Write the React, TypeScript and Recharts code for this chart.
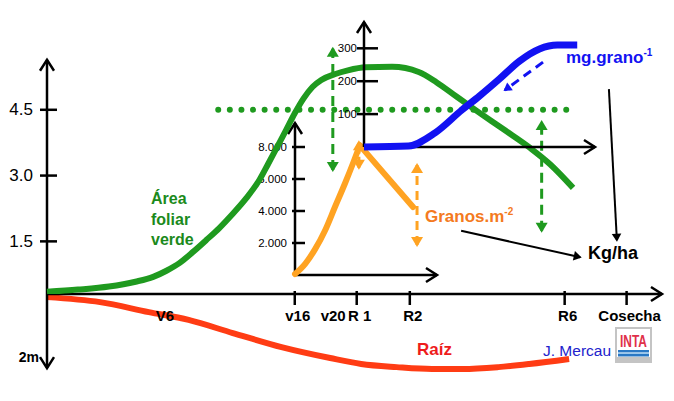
import React from "react";
import { ComposedChart, Line, XAxis, YAxis, ReferenceLine } from "recharts";

const W = 674;
const H = 401;
const FONT = "'Liberation Sans', Arial, Helvetica, sans-serif";

const GREEN = "#1f9a1f";
const GREEN_TEXT = "#1b8a1b";
const ORANGE = "#ffa322";
const ORANGE_TEXT = "#f47a20";
const BLUE = "#1212f2";
const RED = "#ff3c14";

// eje principal: días desde emergencia
const stages = ["V6", "v16", "v20", "R 1", "R2", "R6", "Cosecha"];
const stageDays = [26, 56, 64, 70, 82, 117, 131];
const markedStages = ["v16", "R 1", "R2", "R6", "Cosecha"];

// área foliar verde (IAF)
const laiTicks = [1.5, 3.0, 4.5];
const laiDays = [0, 7, 14, 20, 24, 27, 30, 33, 36, 39, 42, 45, 48, 50, 52, 54, 56, 58, 60, 62, 65, 68, 72, 78, 84, 88, 92.7, 97.2, 103.1, 109.2, 113.7, 118.9];
const laiValues = [0.35, 0.4, 0.47, 0.58, 0.69, 0.83, 1.01, 1.26, 1.53, 1.81, 2.13, 2.48, 2.9, 3.27, 3.65, 4.03, 4.42, 4.76, 5.02, 5.18, 5.31, 5.4, 5.47, 5.48, 5.36, 5.13, 4.79, 4.47, 4.06, 3.63, 3.26, 2.72];
const laiCritical = 4.5;

// profundidad de raíz (m)
const rootTicks = [-2];
const rootDays = [0, 12, 23, 32, 42, 53, 64, 71, 79, 87, 94, 102, 109, 118];
const rootDepth = [-0.1, -0.26, -0.58, -0.83, -1.25, -1.7, -2.05, -2.24, -2.34, -2.4, -2.4, -2.34, -2.24, -2.08];

// granos por m2
const granosTicks = [2000, 4000, 6000, 8000];
const granosDays = [56, 58.3, 60.5, 62.8, 65, 67.3, 69.1, 70.6, 82.6];
const granosValues = [60, 700, 1600, 2800, 4250, 5750, 7000, 8100, 4250];

// peso de grano (mg)
const pesoTicks = [100, 200, 300];
const pesoDays = [72, 82, 88, 94, 98, 102.5, 107, 111.5, 115.5, 120];
const pesoValues = [0, 3, 43, 112, 155, 207, 261, 298, 310, 310];

const laiData = laiDays.map((day, i) => ({ day, lai: laiValues[i] }));
const rootData = rootDays.map((day, i) => ({ day, depth: rootDepth[i] }));
const peakIdx = granosValues.indexOf(Math.max(...granosValues));
const granosData = granosDays.map((day, i) => ({
  day,
  sube: i <= peakIdx ? granosValues[i] : null,
  baja: i >= peakIdx ? granosValues[i] : null,
}));
const pesoData = pesoDays.map((day, i) => ({ day, peso: pesoValues[i] }));

const dotsFrom = 38.7;
const dotsTo = 117.6;

const layer: React.CSSProperties = { position: "absolute", left: 0, top: 0 };

const arrow =
  (color: string, width: number, head: string, dash?: string, both = false) =>
  (p: any) =>
    (
      <line
        x1={p.x1}
        y1={p.y1}
        x2={p.x2}
        y2={p.y2}
        stroke={color}
        strokeWidth={width}
        strokeDasharray={dash}
        markerEnd={`url(#${head})`}
        markerStart={both ? `url(#${head})` : undefined}
      />
    );

const valueTick =
  (fmt: (v: number) => string, size: number, left: number, right: number, gap: number, bold = false) =>
  (p: any) =>
    (
      <g>
        {right > 0 && <line x1={p.x - left} x2={p.x + right} y1={p.y} y2={p.y} stroke="#000" strokeWidth={2.5} />}
        <text
          x={p.x - gap}
          y={p.y}
          textAnchor="end"
          dominantBaseline="central"
          fontSize={size}
          fontFamily={FONT}
          fontWeight={bold ? 700 : 400}
          fill="#000"
        >
          {fmt(p.payload.value)}
        </text>
      </g>
    );

const stageTick = (p: any) => {
  const name = stages[stageDays.indexOf(p.payload.value)];
  return (
    <g>
      {markedStages.includes(name) && (
        <line x1={p.x} x2={p.x} y1={p.y - 3} y2={p.y + 11} stroke="#000" strokeWidth={2.5} />
      )}
      <text x={p.x + 3} y={p.y + 27} textAnchor="middle" fontSize={15} fontWeight={700} fontFamily={FONT} fill="#000">
        {name}
      </text>
    </g>
  );
};

const thousands = (v: number) => String(v).replace(/\B(?=(\d{3})+(?!\d))/g, ".");

function Markers() {
  const tri = (id: string, color: string, s = 1) => (
    <marker
      id={id}
      markerUnits="userSpaceOnUse"
      viewBox="-12 -8 16 16"
      refX={0}
      refY={0}
      markerWidth={16}
      markerHeight={16}
      orient="auto-start-reverse"
      style={{ overflow: "visible" }}
    >
      <path d={`M${-8 * s},${-6 * s} L${2 * s},0 L${-8 * s},${6 * s} Z`} fill={color} />
    </marker>
  );
  return (
    <svg width={0} height={0} style={{ position: "absolute" }}>
      <defs>
        <marker
          id="chev"
          markerUnits="userSpaceOnUse"
          viewBox="-12 -8 16 16"
          refX={0}
          refY={0}
          markerWidth={16}
          markerHeight={16}
          orient="auto-start-reverse"
          style={{ overflow: "visible" }}
        >
          <path d="M-11,-7 L0,0 L-11,7" fill="none" stroke="#000" strokeWidth={2.5} />
        </marker>
        {tri("triGreen", GREEN)}
        {tri("triOrange", ORANGE)}
        {tri("triBlue", BLUE, 0.8)}
        {tri("triBlack", "#000", 0.8)}
      </defs>
    </svg>
  );
}

export default function App() {
  return (
    <div style={{ position: "fixed", left: 0, top: 0, width: W, height: H, background: "#fff", overflow: "hidden" }}>
      <Markers />

      {/* raíz */}
      <div style={layer}>
        <ComposedChart width={W} height={H} data={rootData} margin={{ top: 294, right: 12, bottom: 32, left: 0 }}>
          <XAxis type="number" dataKey="day" domain={[0, 139]} hide />
          <YAxis
            type="number"
            domain={[-2.4, 0]}
            ticks={rootTicks}
            width={47}
            tickSize={0}
            tickMargin={0}
            axisLine={false}
            tickLine={false}
            interval={0}
            tick={valueTick(() => "2m", 14, 0, 0, 8, true)}
          />
          <Line dataKey="depth" type="monotone" stroke={RED} strokeWidth={6} dot={false} isAnimationActive={false} />
          <ReferenceLine
            segment={[{ x: 0, y: 0 }, { x: 0, y: -2.37 }]}
            ifOverflow="visible"
            shape={arrow("#000", 2.5, "chev")}
          />
        </ComposedChart>
      </div>

      {/* granos por m2 */}
      <div style={layer}>
        <ComposedChart width={W} height={H} data={granosData} margin={{ top: 123, right: 237, bottom: 126, left: 235 }}>
          <XAxis type="number" dataKey="day" domain={[56, 88]} hide />
          <YAxis
            type="number"
            domain={[0, 9500]}
            ticks={granosTicks}
            width={60}
            tickSize={0}
            tickMargin={0}
            axisLine={false}
            tickLine={false}
            interval={0}
            tick={valueTick(thousands, 11.5, 3, 10, 8)}
          />
          <ReferenceLine segment={[{ x: 56, y: 0 }, { x: 56, y: 9500 }]} ifOverflow="visible" shape={arrow("#000", 2.5, "chev")} />
          <ReferenceLine segment={[{ x: 56, y: 0 }, { x: 88, y: 0 }]} ifOverflow="visible" shape={arrow("#000", 2.5, "chev")} />
          <ReferenceLine
            segment={[{ x: 83.5, y: 1875 }, { x: 83.5, y: 6875 }]}
            ifOverflow="visible"
            shape={arrow(ORANGE, 3, "triOrange", "9 6", true)}
          />
          <ReferenceLine
            segment={[{ x: 70.4, y: 6700 }, { x: 70.4, y: 8300 }]}
            ifOverflow="visible"
            shape={arrow(ORANGE, 3, "triOrange", "4 3", true)}
          />
          <Line dataKey="sube" type="monotone" stroke={ORANGE} strokeWidth={6} strokeLinecap="round" dot={false} isAnimationActive={false} />
          <Line dataKey="baja" type="linear" stroke={ORANGE} strokeWidth={6} strokeLinecap="round" dot={false} isAnimationActive={false} />
        </ComposedChart>
      </div>

      {/* área foliar verde */}
      <div style={layer}>
        <ComposedChart width={W} height={H} data={laiData} margin={{ top: 44, right: 12, bottom: 77, left: 0 }}>
          <XAxis
            type="number"
            dataKey="day"
            domain={[0, 139]}
            ticks={stageDays}
            height={30}
            tickSize={0}
            tickMargin={0}
            axisLine={false}
            tickLine={false}
            interval={0}
            tick={stageTick}
          />
          <YAxis
            type="number"
            domain={[0.3, 6]}
            ticks={laiTicks}
            width={47}
            tickSize={0}
            tickMargin={0}
            axisLine={false}
            tickLine={false}
            interval={0}
            allowDataOverflow
            tick={valueTick((v) => v.toFixed(1), 17, 7, 10, 14)}
          />
          <ReferenceLine segment={[{ x: 0, y: 0.3 }, { x: 0, y: 5.64 }]} ifOverflow="visible" shape={arrow("#000", 2.5, "chev")} />
          <ReferenceLine segment={[{ x: 0, y: 0.3 }, { x: 139, y: 0.3 }]} ifOverflow="visible" shape={arrow("#000", 2.5, "chev")} />
          <ReferenceLine
            segment={[{ x: dotsFrom, y: laiCritical }, { x: dotsTo, y: laiCritical }]}
            ifOverflow="visible"
            shape={(p: any) => (
              <line
                x1={p.x1}
                y1={p.y1}
                x2={p.x2}
                y2={p.y2}
                stroke={GREEN}
                strokeWidth={6}
                strokeDasharray="0 11.6"
                strokeLinecap="round"
              />
            )}
          />
          <ReferenceLine
            segment={[{ x: 64.6, y: 3.13 }, { x: 64.6, y: 5.89 }]}
            ifOverflow="visible"
            shape={arrow(GREEN, 3, "triGreen", "10 6", true)}
          />
          <ReferenceLine
            segment={[{ x: 111.8, y: 1.74 }, { x: 111.8, y: 4.22 }]}
            ifOverflow="visible"
            shape={arrow(GREEN, 3, "triGreen", "10 6", true)}
          />
          <ReferenceLine
            segment={[{ x: 93.6, y: 1.74 }, { x: 120.5, y: 1.14 }]}
            ifOverflow="visible"
            shape={arrow("#000", 2, "triBlack")}
          />
          <ReferenceLine
            segment={[{ x: 127, y: 4.97 }, { x: 128.8, y: 1.53 }]}
            ifOverflow="visible"
            shape={arrow("#000", 2, "triBlack")}
          />
          <Line dataKey="lai" type="monotone" stroke={GREEN} strokeWidth={6} dot={false} isAnimationActive={false} />
        </ComposedChart>
      </div>

      {/* peso de grano */}
      <div style={layer}>
        <ComposedChart width={W} height={H} data={pesoData} margin={{ top: 22, right: 79, bottom: 254, left: 304 }}>
          <XAxis type="number" dataKey="day" domain={[72, 124]} hide />
          <YAxis
            type="number"
            domain={[0, 380]}
            ticks={pesoTicks}
            width={60}
            tickSize={0}
            tickMargin={0}
            axisLine={false}
            tickLine={false}
            interval={0}
            tick={valueTick((v) => String(v), 11.5, 7, 14, 7)}
          />
          <ReferenceLine segment={[{ x: 72, y: 0 }, { x: 72, y: 380 }]} ifOverflow="visible" shape={arrow("#000", 2.5, "chev")} />
          <ReferenceLine segment={[{ x: 72, y: 0 }, { x: 124, y: 0 }]} ifOverflow="visible" shape={arrow("#000", 2.5, "chev")} />
          <ReferenceLine
            segment={[{ x: 112.3, y: 258 }, { x: 103.7, y: 173 }]}
            ifOverflow="visible"
            shape={arrow(BLUE, 3, "triBlue", "9 6")}
          />
          <Line dataKey="peso" type="monotone" stroke={BLUE} strokeWidth={7} dot={false} isAnimationActive={false} />
        </ComposedChart>
      </div>

      {/* textos */}
      <svg width={W} height={H} style={layer} fontFamily={FONT}>
        <g fill={GREEN_TEXT} fontWeight={700} fontSize={16}>
          <text x={151} y={204}>Área</text>
          <text x={151} y={225}>foliar</text>
          <text x={151} y={245}>verde</text>
        </g>
        <text x={425} y={222} fill={ORANGE_TEXT} fontWeight={700} fontSize={17}>
          Granos.m<tspan fontSize={10} dy={-7}>-2</tspan>
        </text>
        <text x={566} y={63} fill={BLUE} fontWeight={700} fontSize={17}>
          mg.grano<tspan fontSize={10} dy={-7}>-1</tspan>
        </text>
        <text x={588} y={259} fill="#000" fontWeight={700} fontSize={18}>
          Kg/ha
        </text>
        <text x={417} y={355} fill="#ee1c1c" fontWeight={700} fontSize={17}>
          Raíz
        </text>
        <text x={543} y={356} fill="#2222cc" fontSize={15.5}>
          J. Mercau
        </text>
        <g>
          <rect x={615} y={327} width={37} height={36} fill="#c4c4c4" />
          <rect x={617} y={329} width={33} height={28} fill="#fff" />
          <text
            x={633.5}
            y={347}
            textAnchor="middle"
            fill="#e0304a"
            fontWeight={700}
            fontSize={17}
            textLength={27}
            lengthAdjust="spacingAndGlyphs"
          >
            INTA
          </text>
          <rect x={618} y={350} width={31} height={2.5} fill="#2a78c4" />
          <rect x={618} y={352.5} width={31} height={1.5} fill="#9cc8ec" />
          <rect x={618} y={354} width={31} height={2.5} fill="#2a78c4" />
        </g>
      </svg>
    </div>
  );
}
